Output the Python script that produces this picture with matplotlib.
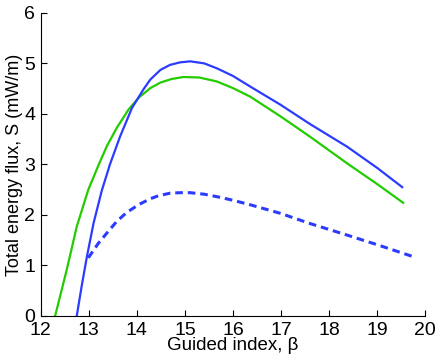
import matplotlib
matplotlib.use('Agg')
import matplotlib.pyplot as plt

plt.rcParams['font.family'] = ['Liberation Sans', 'DejaVu Sans']

# green solid curve
beta_g = [12.30, 12.54, 12.75, 12.99, 13.2, 13.375, 13.58, 13.83, 14.05, 14.28, 14.49, 14.72,
          14.97, 15.3, 15.67, 16.0, 16.36, 16.99, 17.6, 18.375, 19.0, 19.54]
s_g = [0.0, 0.91, 1.77, 2.50, 2.98, 3.36, 3.72, 4.09, 4.33, 4.51, 4.62, 4.69,
       4.73, 4.72, 4.64, 4.51, 4.34, 3.95, 3.55, 3.02, 2.61, 2.24]

# blue solid curve
beta_b = [12.75, 12.85, 12.96, 13.10, 13.27, 13.44, 13.65, 13.9, 14.14, 14.28, 14.49, 14.69,
          14.9, 15.11, 15.4, 15.67, 16.0, 16.36, 16.99, 17.6, 18.375, 19.0, 19.52]
s_b = [0.0, 0.58, 1.17, 1.84, 2.48, 3.0, 3.55, 4.12, 4.49, 4.68, 4.87, 4.97,
       5.02, 5.04, 5.0, 4.90, 4.75, 4.54, 4.18, 3.80, 3.35, 2.93, 2.55]

# blue dashed curve
beta_d = [12.99, 13.2, 13.375, 13.58, 13.79, 14.05, 14.28, 14.45, 14.69, 14.9, 15.11, 15.4,
          15.67, 16.0, 16.36, 16.99, 17.6, 18.375, 19.0, 19.76]
s_d = [1.15, 1.44, 1.64, 1.87, 2.05, 2.21, 2.32, 2.38, 2.43, 2.44, 2.44, 2.41,
       2.36, 2.29, 2.20, 2.03, 1.83, 1.60, 1.41, 1.17]

blue = '#2b3cff'
green = '#22cc00'

fig = plt.figure(figsize=(4.36, 3.57), dpi=100)
ax = fig.add_axes([0.0934, 0.115, 0.882, 0.849])

ax.plot(beta_g, s_g, color=green, lw=1.6)
ax.plot(beta_b, s_b, color=blue, lw=1.6)
ax.plot(beta_d, s_d, color=blue, lw=2.2, dashes=(2.5, 1.6))

ax.set_xlim(12, 20)
ax.set_ylim(0, 6)
ax.set_xticks(range(12, 21))
ax.set_yticks(range(0, 7))
ax.spines['top'].set_visible(False)
ax.spines['right'].set_visible(False)
ax.tick_params(direction='in', length=4, labelsize=14)
ax.tick_params(axis='x', pad=4)
ax.tick_params(axis='y', pad=4)
ax.set_xlabel('Guided index, β', fontsize=13.5, labelpad=-1)
ax.set_ylabel('Total energy flux, S (mW/m)', fontsize=13, labelpad=1)

plt.savefig('out.png', dpi=100)
